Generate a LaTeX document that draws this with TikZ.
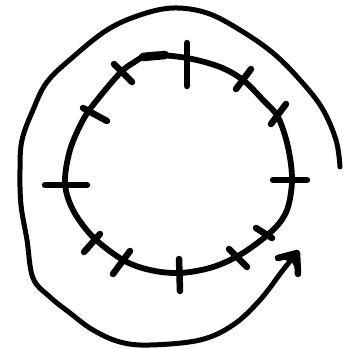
\documentclass[tikz,border=0pt]{standalone}
\usetikzlibrary{arrows.meta}
\begin{document}
\begin{tikzpicture}[x=1pt,y=-1pt,
  loopline/.style={line width=5.8pt,line cap=round,line join=round},
  spiralline/.style={line width=5pt,line cap=round,line join=round},
  tickmark/.style={line width=6.5pt,line cap=round},
  headline/.style={line width=6.5pt,line cap=round,line join=round}]
\useasboundingbox (0,0) rectangle (343,349);
% inner ring
\draw[loopline] plot[smooth cycle,tension=0.55] coordinates {
 (150,55) (187,58) (220,67) (243,80) (263,100) (278,117) (288,147) (292,180)
 (287,210) (273,230) (243,253) (213,267) (180,273) (150,270) (123,260)
 (93,237) (73,210) (65,183) (70,150) (83,120) (97,100) (120,73) (133,63)};
\draw[line width=8.5pt,line cap=round] (143,57) -- (165,55);
% tick marks
\foreach \a/\b in {
 {(187,43)}/{(187,86)},
 {(114,64)}/{(132,82)},
 {(83,108)}/{(107,121)},
 {(45,185)}/{(87,185)},
 {(84,252)}/{(100,234)},
 {(113,274)}/{(130,251)},
 {(179,259)}/{(180,291)},
 {(229,249)}/{(247,267)},
 {(256,228)}/{(272,238)},
 {(273,180)}/{(307,180)},
 {(271,124)}/{(286,104)},
 {(236,89)}/{(251,69)}}
 \draw[tickmark] \a -- \b;
% outer spiral
\coordinate (s0) at (340,167);
\coordinate (tip) at (297,253);
\draw[spiralline] plot[smooth,tension=0.6] coordinates {
 (340,167) (336,140) (322,108) (300,80) (273,53) (240,30) (207,13) (173,8)
 (140,15) (107,30) (73,57) (47,82) (33,110) (22,140) (20,170) (21,205)
 (27,240) (33,278) (50,297) (70,313) (93,330) (120,342) (150,345)
 (200,340) (233,325) (260,300) (283,270) (297,253)};
% arrowhead
\coordinate (barbA) at (278,258);
\coordinate (barbB) at (298,274);
\draw[headline] (barbA) -- (tip) -- (barbB);
\fill (barbA) -- (tip) -- (barbB) -- (292,262) -- cycle;
\end{tikzpicture}
\end{document}
